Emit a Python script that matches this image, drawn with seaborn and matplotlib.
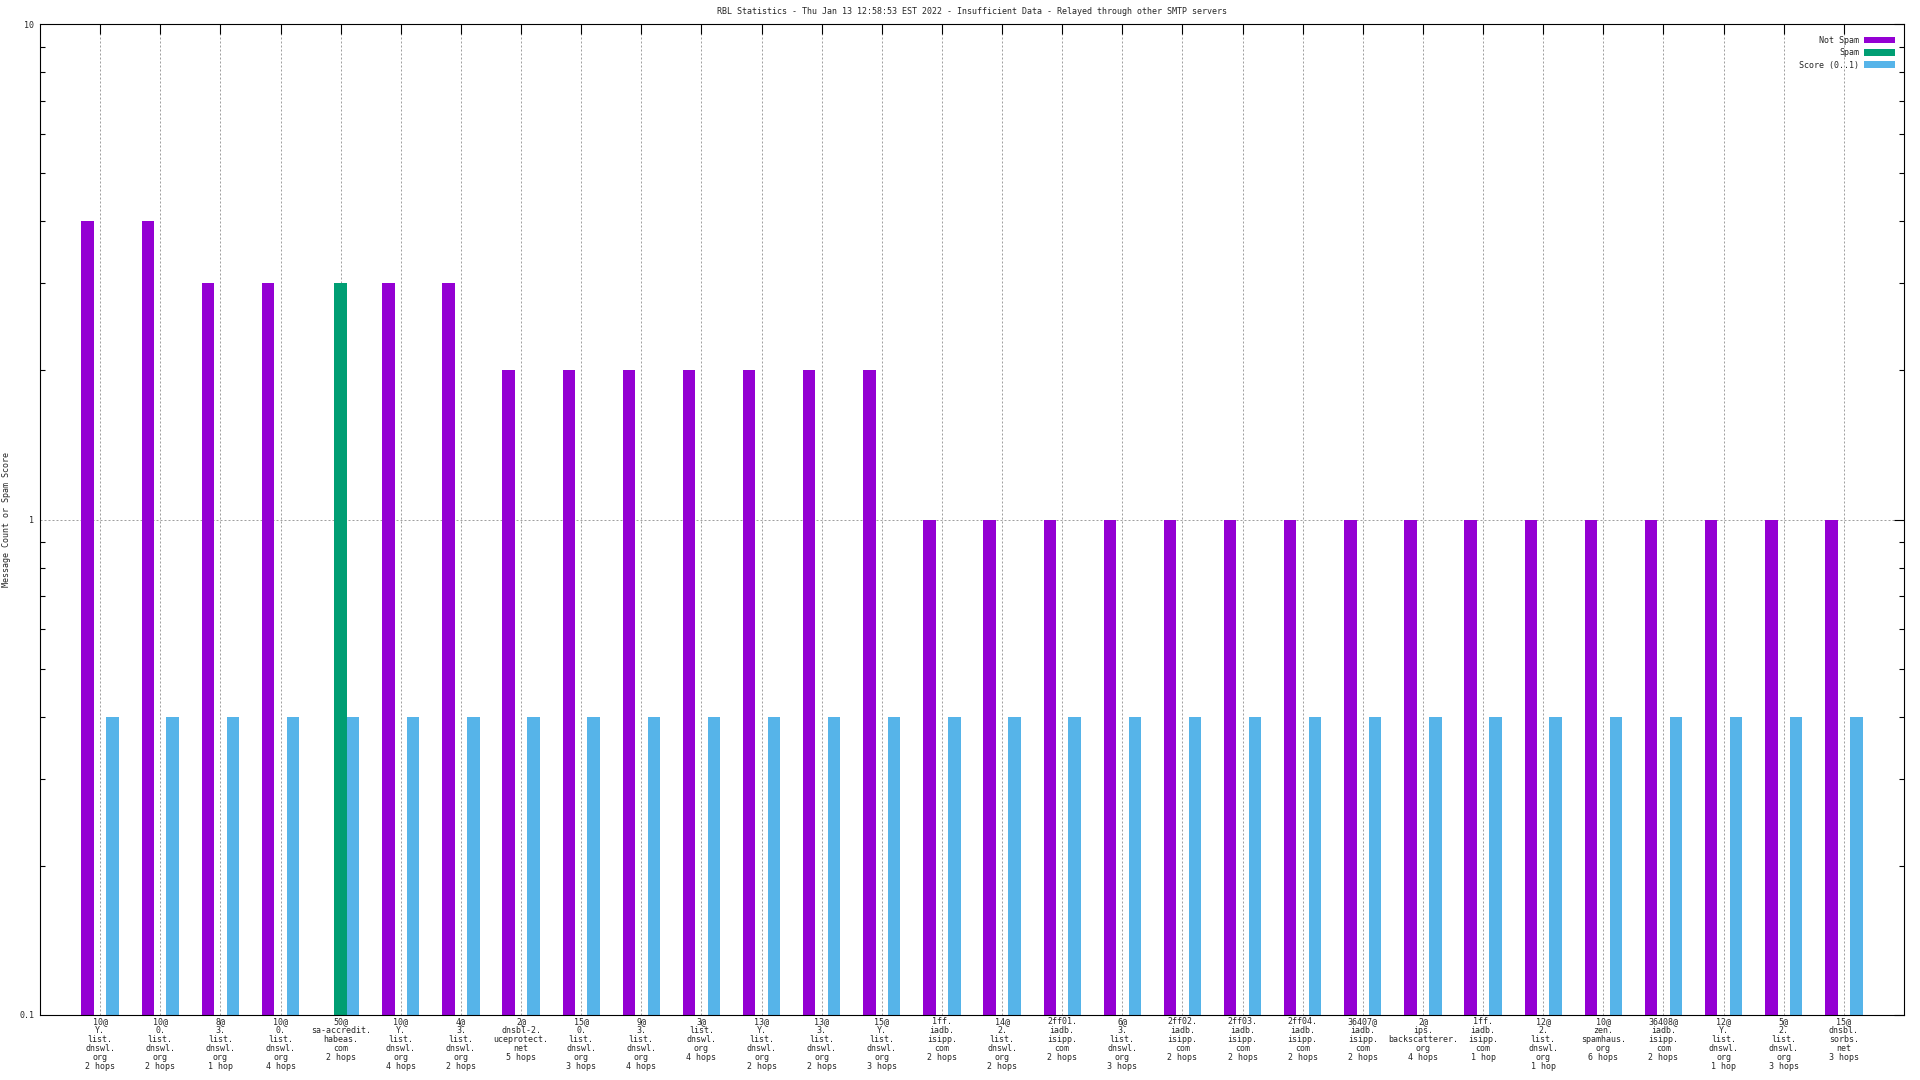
import numpy as np
import pandas as pd
import matplotlib
matplotlib.use("Agg")
import matplotlib.pyplot as plt
import seaborn as sns
from matplotlib.ticker import FixedLocator, LogLocator, NullFormatter

# ---------------- data ----------------
title = ("RBL Statistics - Thu Jan 13 12:58:53 EST 2022 - Insufficient Data - "
         "Relayed through other SMTP servers")
ylabel = "Message Count or Spam Score"

categories = [
    "10@\nY.\nlist.\ndnswl.\norg\n2 hops",
    "10@\n0.\nlist.\ndnswl.\norg\n2 hops",
    "8@\n3.\nlist.\ndnswl.\norg\n1 hop",
    "10@\n0.\nlist.\ndnswl.\norg\n4 hops",
    "50@\nsa-accredit.\nhabeas.\ncom\n2 hops",
    "10@\nY.\nlist.\ndnswl.\norg\n4 hops",
    "4@\n3.\nlist.\ndnswl.\norg\n2 hops",
    "2@\ndnsbl-2.\nuceprotect.\nnet\n5 hops",
    "15@\n0.\nlist.\ndnswl.\norg\n3 hops",
    "9@\n3.\nlist.\ndnswl.\norg\n4 hops",
    "3@\nlist.\ndnswl.\norg\n4 hops",
    "13@\nY.\nlist.\ndnswl.\norg\n2 hops",
    "13@\n3.\nlist.\ndnswl.\norg\n2 hops",
    "15@\nY.\nlist.\ndnswl.\norg\n3 hops",
    "1ff.\niadb.\nisipp.\ncom\n2 hops",
    "14@\n2.\nlist.\ndnswl.\norg\n2 hops",
    "2ff01.\niadb.\nisipp.\ncom\n2 hops",
    "6@\n3.\nlist.\ndnswl.\norg\n3 hops",
    "2ff02.\niadb.\nisipp.\ncom\n2 hops",
    "2ff03.\niadb.\nisipp.\ncom\n2 hops",
    "2ff04.\niadb.\nisipp.\ncom\n2 hops",
    "36407@\niadb.\nisipp.\ncom\n2 hops",
    "2@\nips.\nbackscatterer.\norg\n4 hops",
    "1ff.\niadb.\nisipp.\ncom\n1 hop",
    "12@\n2.\nlist.\ndnswl.\norg\n1 hop",
    "10@\nzen.\nspamhaus.\norg\n6 hops",
    "36408@\niadb.\nisipp.\ncom\n2 hops",
    "12@\nY.\nlist.\ndnswl.\norg\n1 hop",
    "5@\n2.\nlist.\ndnswl.\norg\n3 hops",
    "15@\ndnsbl.\nsorbs.\nnet\n3 hops",
]

not_spam = [4, 4, 3, 3, 0, 3, 3, 2, 2, 2, 2, 2, 2, 2, 1,
            1, 1, 1, 1, 1, 1, 1, 1, 1, 1, 1, 1, 1, 1, 1]
spam = [0, 0, 0, 0, 3, 0, 0, 0, 0, 0, 0, 0, 0, 0, 0,
        0, 0, 0, 0, 0, 0, 0, 0, 0, 0, 0, 0, 0, 0, 0]
score = [0.4, 0.4, 0.4, 0.4, 0.4, 0.4, 0.4, 0.4, 0.4, 0.4,
         0.4, 0.4, 0.4, 0.4, 0.4, 0.4, 0.4, 0.4, 0.4, 0.4,
         0.4, 0.4, 0.4, 0.4, 0.4, 0.4, 0.4, 0.4, 0.4, 0.4]

series_names = ["Not Spam", "Spam", "Score (0..1)"]
series_colors = ["#9400D3", "#009E73", "#56B4E9"]

df = pd.DataFrame({
    "label": categories * 3,
    "series": ([series_names[0]] * len(categories)
               + [series_names[1]] * len(categories)
               + [series_names[2]] * len(categories)),
    "value": not_spam + spam + score,
})

# ---------------- style ----------------
sns.set_style("white")
plt.rcParams["font.family"] = ["DejaVu Sans Mono", "DejaVu Sans"]
FS = 6

W, H, DPI = 1920, 1080, 100
fig = plt.figure(figsize=(W / DPI, H / DPI), dpi=DPI)
left, right, top, bottom = 40, 1904, 24, 1015
ax = fig.add_axes([left / W, 1 - bottom / H, (right - left) / W, (bottom - top) / H])

sns.barplot(data=df, x="label", y="value", hue="series",
            order=categories, hue_order=series_names,
            palette=dict(zip(series_names, series_colors)),
            width=0.62, saturation=1, linewidth=0, errorbar=None,
            dodge=True, ax=ax)

ax.set_yscale("log")
ax.set_ylim(0.1, 10)
ax.set_xlim(-1, len(categories))
ax.set_xlabel("")
ax.set_ylabel("")

# grid
ax.set_axisbelow(True)
ax.grid(axis="x", which="major", color="#a0a0a0", linewidth=0.72,
        linestyle=(0, (2, 2)))
ax.grid(axis="y", which="major", color="#a0a0a0", linewidth=0.72,
        linestyle=(0, (2, 2)))
ax.grid(axis="y", which="minor", visible=False)

# ticks
ax.set_xticks(range(len(categories)))
ax.set_xticklabels(categories, fontsize=FS, linespacing=0.99)
ax.yaxis.set_major_locator(FixedLocator([0.1, 1, 10]))
ax.set_yticklabels(["0.1", "1", "10"], fontsize=FS)
ax.yaxis.set_minor_locator(LogLocator(base=10, subs=np.arange(2, 10)))
ax.yaxis.set_minor_formatter(NullFormatter())
ax.tick_params(axis="both", which="major", direction="in", length=7.2,
               width=0.8, color="black", top=True, right=True)
ax.tick_params(axis="x", which="major", pad=1.8)
ax.tick_params(axis="y", which="minor", direction="in", length=3.6,
               width=0.8, color="black", left=True, right=True)
ax.tick_params(axis="y", which="major", pad=4)
for s in ax.spines.values():
    s.set_color("black")
    s.set_linewidth(0.8)

# title & y label
ax.set_title(title, fontsize=FS, pad=7)
fig.text(7 / W, 1 - (top + bottom) / 2 / H, ylabel, rotation=90,
         ha="center", va="center", fontsize=FS)

# legend
handles, labels = ax.get_legend_handles_labels()
if ax.get_legend() is not None:
    ax.get_legend().remove()
ax.legend(handles, labels, loc="upper right",
          bbox_to_anchor=(1 - 9 / (right - left), 1 - 12 / (bottom - top)),
          frameon=False, markerfirst=False, fontsize=FS,
          handlelength=3.7, handleheight=0.85, handletextpad=0.6,
          labelspacing=0.4, borderpad=0, borderaxespad=0)

fig.savefig("out.png", dpi=DPI)
